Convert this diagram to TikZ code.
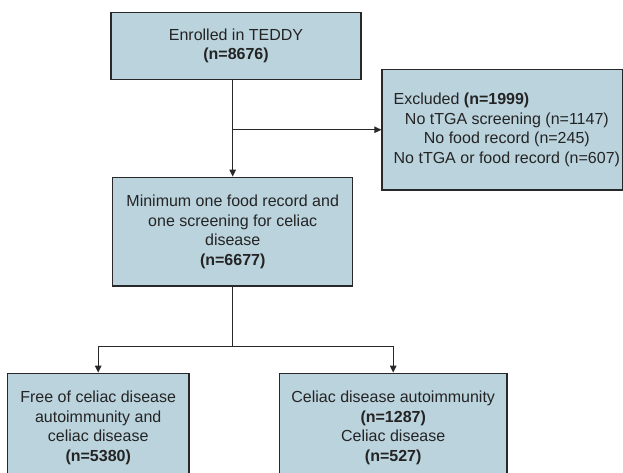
\documentclass[tikz,border=0pt]{standalone}
\usepackage{fontspec}
\setmainfont{Liberation Sans}
\usetikzlibrary{arrows.meta,calc}
\definecolor{boxfill}{RGB}{186,211,221}
\definecolor{ink}{RGB}{36,36,36}
\definecolor{edge}{RGB}{40,40,40}
\begin{document}
\begin{tikzpicture}[x=1pt,y=-1pt,
  box/.style={draw=edge,line width=1.3pt,fill=boxfill,inner sep=0pt,
    align=center,text=ink,font=\fontsize{16}{19.5}\selectfont},
  label/.style={inner sep=0pt,align=center,text=ink,
    font=\fontsize{16}{19.5}\selectfont},
  conn/.style={draw=edge,line width=1.2pt},
  arr/.style={conn,-{Triangle[length=7pt,width=6.5pt]}}]
\useasboundingbox (0,0) rectangle (623,472);

% enrolment
\node[box,minimum width=250pt,minimum height=67pt] (enr) at (236,45.8)
  {Enrolled in TEDDY\\\textbf{(n=8676)}};

% exclusions
\node[box,minimum width=240.7pt,minimum height=120.5pt] (exc) at (502.35,129.75) {};
\node[label] (exctext) at ($(exc.center)+(4.5,0)$)
  {\rlap{Excluded \textbf{(n=1999)}}\hphantom{No tTGA or food record (n=607)}\\
   No tTGA screening (n=1147)\\
   No food record (n=245)\\
   No tTGA or food record (n=607)};

% analysed cohort
\node[box,minimum width=240pt,minimum height=108.7pt] (min) at (232.7,231.65)
  {Minimum one food record and\\one screening for celiac\\disease\\\textbf{(n=6677)}};

% outcome groups
\node[box,minimum width=181.7pt,minimum height=109pt] (free) at (98.2,427.8)
  {Free of celiac disease\\autoimmunity and\\celiac disease\\\textbf{(n=5380)}};
\node[box,minimum width=227.7pt,minimum height=109pt] (cd) at (393.2,427.8)
  {Celiac disease autoimmunity\\\textbf{(n=1287)}\\Celiac disease\\\textbf{(n=527)}};

% connectors
\coordinate (top) at (enr.south -| min.north);
\coordinate (branch) at (min.north |- exc.west);
\draw[arr] (top) -- (min.north);
\draw[arr] (branch) -- (exc.west);

\coordinate (split) at ($(min.south)+(0,60)$);
\draw[conn] (min.south) -- (split);
\draw[arr] (split) -| (free.north);
\draw[arr] (split) -| (cd.north);
\end{tikzpicture}
\end{document}
